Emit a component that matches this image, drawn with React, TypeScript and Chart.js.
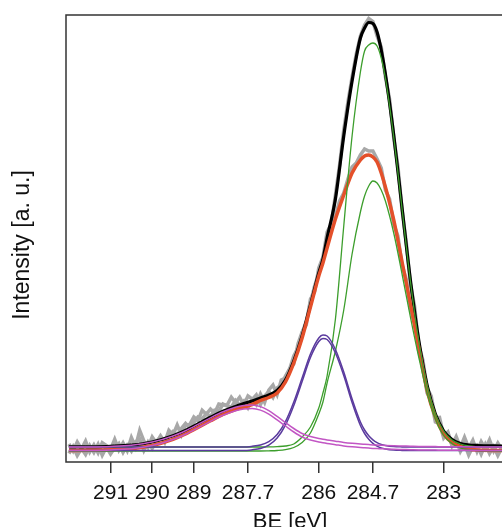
import React, { useEffect, useRef } from "react";
import { Chart, registerables } from "chart.js";

Chart.register(...registerables);

// Binding energy grid for the fitted curves (eV)
const beFit = [292.0, 291.5, 291.0, 290.5, 290.0, 289.5, 289.2, 288.9, 288.6, 288.3, 288.0, 287.8, 287.6, 287.4, 287.2, 287.0, 286.8, 286.6, 286.4, 286.2, 286.0, 285.9, 285.8, 285.6, 285.4, 285.2, 285.0, 284.9, 284.8, 284.7, 284.6, 284.5, 284.4, 284.2, 284.0, 283.8, 283.6, 283.4, 283.2, 283.0, 282.8, 282.6, 282.4, 282.2, 281.6];

// Envelope fits (arbitrary units)
const blackFit = [15.1, 15.2, 15.7, 16.9, 20, 26.2, 31.5, 38.1, 44.7, 50.8, 55.5, 58.5, 61, 64, 67, 71.5, 82, 101, 126, 157, 189, 203, 224, 263, 326, 381, 424, 434, 439.5, 438.5, 430, 412, 388, 327, 254, 182, 122, 77, 48, 31, 22.5, 18.5, 17, 16.5, 16];
const redFit = [11.6, 11.7, 12.2, 13.4, 16.5, 22.7, 28, 34.5, 41.2, 47.5, 52.5, 55, 57.5, 61.5, 64.5, 69, 80, 99, 124, 155, 186, 199, 214, 243, 267, 289, 302, 306, 307, 305, 300, 289, 275, 242, 200, 158, 115, 72, 45, 28, 19.5, 15.5, 13, 12, 11.5];

// Components
const greenBig = [15, 15, 15, 15, 15, 15, 15, 15, 15, 15, 15, 15, 15, 15, 15.1, 15.4, 16, 18, 25, 35, 54, 69, 86, 143, 236, 326, 390, 411, 417, 419, 416, 404, 384, 325, 253, 181, 121, 77, 48, 31, 22, 18, 16, 15.4, 15];
const greenSmall = [11, 11, 11, 11, 11, 11, 11, 11, 11, 11, 11, 11, 11, 11, 11.2, 11.5, 12.3, 14.5, 19.5, 29, 48, 60, 79, 111, 152, 208, 250, 266, 276, 281, 279, 272, 261, 229, 188, 145, 105, 69, 43, 26.5, 18.5, 14, 12.3, 11.5, 11];
const purpleA = [15, 15, 15, 15, 15, 15, 15, 15, 15, 15, 15, 15, 15.7, 17, 20.4, 27.5, 40.4, 60, 84, 108, 124, 127, 126, 112.5, 90, 63, 40, 32, 26.3, 22.2, 19.4, 17.6, 16.5, 15.4, 15.1, 15, 15, 15, 15, 15, 15, 15, 15, 15, 15];
const purpleB = [11.5, 11.5, 11.5, 11.5, 11.5, 11.5, 11.5, 11.5, 11.5, 11.5, 11.5, 11.5, 12.2, 13.5, 16.9, 24, 36.9, 56.5, 80.5, 104.5, 120.5, 123.5, 122.5, 109, 86.5, 59.5, 36.5, 28.5, 22.8, 18.7, 15.9, 14.1, 13, 11.9, 11.6, 11.5, 11.5, 11.5, 11.5, 11.5, 11.5, 11.5, 11.5, 11.5, 11.5];
const magentaA = [15, 15.1, 15.6, 16.8, 19.9, 26, 31.3, 37.6, 44.2, 50.3, 54.8, 56.5, 57, 55.4, 51.3, 45.6, 39.5, 33.5, 28.5, 25.5, 23.5, 22.7, 22, 20.8, 19.6, 18.7, 18, 17.7, 17.4, 17.1, 16.9, 16.7, 16.5, 16.2, 16, 15.8, 15.6, 15.5, 15.4, 15.3, 15.25, 15.2, 15.15, 15.1, 15];
const magentaB = [11.5, 11.6, 12.1, 13.3, 16.4, 22.5, 27.8, 34.1, 40.7, 46.8, 51.3, 53, 53.5, 51.9, 47.8, 42.1, 36, 30, 25, 22, 20, 19.2, 18.5, 17.3, 16.1, 15.2, 14.5, 14.2, 13.9, 13.6, 13.4, 13.2, 13, 12.7, 12.5, 12.3, 12.1, 12, 11.9, 11.8, 11.75, 11.7, 11.65, 11.6, 11.5];

// Measured (noisy) spectra
const beData = [292.0, 291.9, 291.8, 291.7, 291.6, 291.5, 291.4, 291.3, 291.2, 291.1, 291.0, 290.9, 290.8, 290.7, 290.6, 290.5, 290.4, 290.3, 290.2, 290.1, 290.0, 289.9, 289.8, 289.7, 289.6, 289.5, 289.4, 289.3, 289.2, 289.1, 289.0, 288.9, 288.8, 288.7, 288.6, 288.5, 288.4, 288.3, 288.2, 288.1, 288.0, 287.9, 287.8, 287.7, 287.6, 287.5, 287.4, 287.3, 287.2, 287.1, 287.0, 286.9, 286.8, 286.7, 286.6, 286.5, 286.4, 286.3, 286.2, 286.1, 286.0, 285.9, 285.8, 285.7, 285.6, 285.5, 285.4, 285.3, 285.2, 285.1, 285.0, 284.9, 284.8, 284.7, 284.6, 284.5, 284.4, 284.3, 284.2, 284.1, 284.0, 283.9, 283.8, 283.7, 283.6, 283.5, 283.4, 283.3, 283.2, 283.1, 283.0, 282.9, 282.8, 282.7, 282.6, 282.5, 282.4, 282.3, 282.2, 282.1, 282.0, 281.9, 281.8, 281.7, 281.6];
const grayA = [18, 11, 20, 13, 21, 10, 17.1, 9.2, 19.3, 16.4, 12.5, 22.7, 11.9, 19.1, 11.3, 24.5, 15, 31.5, 21, 14.5, 25, 19, 26.2, 19.5, 31.7, 27, 37, 27, 37, 37.5, 45, 41.5, 51.7, 47.8, 53, 49, 58, 57, 57, 64.8, 59.5, 64.8, 57, 66, 63, 57.5, 68, 59.5, 72, 77, 67.5, 82, 84, 93, 98, 118, 130, 137, 163, 170, 194, 205, 230, 238, 267, 297, 332, 360, 385, 408, 426, 437, 443.5, 440.5, 426, 415, 385, 363, 324, 296, 252, 220, 178, 156, 117, 102, 74, 66, 44, 44.5, 26, 30, 16.5, 25.3, 14.5, 24.7, 14, 21.7, 10.5, 20.4, 13.3, 22.2, 11.1, 19, 12];
const grayB = [8.5, 15.5, 6.5, 13.5, 7.5, 16.5, 9.6, 17.7, 6.8, 14.9, 8, 14.2, 18.4, 9.6, 16.8, 11, 20.4, 22.9, 11.4, 19.9, 13.5, 20.6, 24.8, 20, 26.2, 30.5, 26.5, 33.5, 38.5, 34, 39.5, 45, 43.2, 48.3, 45.5, 51.7, 50.8, 58, 56, 54.8, 61.5, 56.8, 61, 54.2, 62.5, 67, 57.5, 66, 70.5, 64.5, 74, 77, 86, 93, 106, 114, 129, 141, 159, 176, 189, 204, 216, 235, 246, 261, 269, 283, 295, 299, 307, 313, 311, 311, 303, 294, 272, 263, 238, 226, 197, 183, 153, 139, 111, 97, 69, 61, 40, 38.5, 24, 29, 16.5, 22, 10.5, 18, 7, 15.5, 17, 7.8, 17.7, 8.6, 15.5, 6.5, 14.5];

const tickValues = [291, 290, 289, 287.7, 286, 284.7, 283];
const tickLabels = ["291", "290", "289", "287.7", "286", "284.7", "283"];
const xTitle = "BE [eV]";
const yTitle = "Intensity [a. u.]";

const FONT = "'Liberation Sans', Arial, Helvetica, sans-serif";

const framePlugin = {
  id: "frame",
  afterDatasetsDraw(chart: any) {
    const { ctx, chartArea: a } = chart;
    ctx.save();
    ctx.strokeStyle = "#333333";
    ctx.lineWidth = 1.5;
    ctx.beginPath();
    ctx.moveTo(a.right + 5, a.top);
    ctx.lineTo(a.left, a.top);
    ctx.lineTo(a.left, a.bottom);
    ctx.lineTo(a.right + 5, a.bottom);
    ctx.stroke();
    ctx.restore();
  },
  afterDraw(chart: any) {
    const { ctx, chartArea: a } = chart;
    ctx.save();
    ctx.fillStyle = "#111111";
    ctx.textAlign = "center";
    ctx.textBaseline = "middle";
    // x-axis title
    ctx.font = `22px ${FONT}`;
    ctx.fillText(xTitle, (a.left + a.right) / 2 + 6, a.bottom + 59.5);
    // y-axis title
    ctx.translate(a.left - 43, (a.top + a.bottom) / 2 + 6.5);
    ctx.rotate(-Math.PI / 2);
    ctx.font = `23px ${FONT}`;
    ctx.fillText(yTitle, 0, 0);
    ctx.restore();
  },
};

function pts(xs: number[], ys: number[]) {
  return xs.map((x, i) => ({ x, y: ys[i] }));
}

export default function App() {
  const ref = useRef<HTMLCanvasElement | null>(null);
  useEffect(() => {
    if (!ref.current) return;
    const fitLine = (label: string, ys: number[], color: string, width: number, order: number) => ({
      label,
      data: pts(beFit, ys),
      borderColor: color,
      borderWidth: width,
      pointRadius: 0,
      fill: false,
      cubicInterpolationMode: "monotone" as const,
      order,
    });
    const chart = new Chart(ref.current, {
      type: "line",
      data: {
        datasets: [
          fitLine("magenta A", magentaA, "#c256c4", 1.5, 1),
          fitLine("magenta B", magentaB, "#c256c4", 1.5, 1),
          fitLine("purple A", purpleA, "#5a3a9e", 1.5, 2),
          fitLine("purple B", purpleB, "#5a3a9e", 1.5, 2),
          fitLine("green big", greenBig, "#3c9e2c", 1.3, 3),
          fitLine("green small", greenSmall, "#3c9e2c", 1.3, 3),
          fitLine("fit B", redFit, "#e4502a", 3.5, 5),
          fitLine("fit A", blackFit, "#000000", 3.2, 6),
          {
            label: "data B",
            data: pts(beData, grayB),
            borderColor: "#a8a8a8",
            borderWidth: 3.5,
            pointRadius: 0,
            fill: false,
            tension: 0,
            order: 8,
          },
          {
            label: "data A",
            data: pts(beData, grayA),
            borderColor: "#a8a8a8",
            borderWidth: 3.5,
            pointRadius: 0,
            fill: false,
            tension: 0,
            order: 9,
          },
        ],
      },
      options: {
        responsive: false,
        animation: false,
        layout: { padding: { top: 15, left: 66, right: 0, bottom: 14 } },
        plugins: { legend: { display: false }, tooltip: { enabled: false } },
        scales: {
          x: {
            type: "linear",
            reverse: true,
            min: 281.6,
            max: 292.07,
            afterBuildTicks: (scale: any) => {
              scale.ticks = tickValues.map((v) => ({ value: v }));
            },
            ticks: {
              autoSkip: false,
              maxRotation: 0,
              minRotation: 0,
              padding: 7.4,
              color: "#111111",
              font: { size: 21, family: FONT },
              callback: (_v: any, i: number) => tickLabels[i],
            },
            grid: {
              display: true,
              drawOnChartArea: false,
              drawTicks: true,
              tickLength: 11,
              color: "#333333",
              lineWidth: 1.5,
            },
            border: { display: false },
            title: { display: false },
          },
          y: {
            type: "linear",
            display: false,
            min: 0,
            max: 447,
          },
        },
      },
      plugins: [framePlugin],
    });
    return () => chart.destroy();
  }, []);
  return (
    <div style={{ position: "absolute", left: 0, top: 0, width: 502, height: 527, overflow: "hidden", background: "#ffffff" }}>
      <canvas ref={ref} width={502} height={527} style={{ display: "block" }} />
    </div>
  );
}
